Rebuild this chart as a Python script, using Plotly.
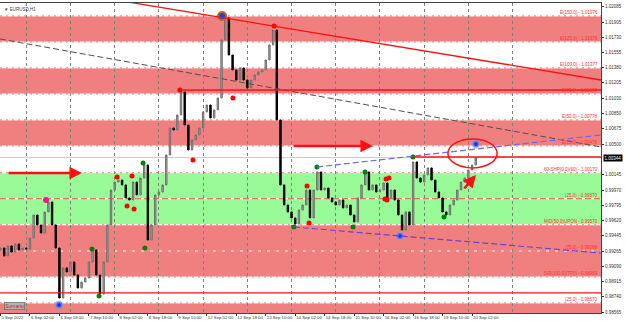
import plotly.graph_objects as go

# ---------------- data ----------------
# price path (2-hour steps, bar index = 2*k), EURUSD H1
closes = [0.99303, 0.99211, 0.99326, 0.99257, 0.99349, 0.99280, 0.99303, 0.99291, 0.99418, 0.99683,
          0.99568, 0.99476, 0.99718, 0.99833, 0.99568, 0.99303, 0.98727, 0.99073, 0.99027, 0.99142,
          0.98992, 0.98842, 0.98911, 0.98957, 0.99142, 0.99280, 0.98992, 0.98773, 0.99142, 0.99568,
          0.99971, 1.00063, 1.00086, 1.00029, 0.99879, 0.99856, 1.00063, 0.99914, 1.00109, 1.00259,
          0.99395, 0.99568, 0.99914, 0.99948, 1.00029, 1.00374, 1.00685, 1.00662, 1.00835, 1.01100,
          1.00720, 1.00432, 1.00547, 1.00605, 1.00685, 1.00870, 1.00950, 1.00801, 1.00893, 1.01031,
          1.01699, 1.01953, 1.01526, 1.01354, 1.01238, 1.01377, 1.01238, 1.01146, 1.01238, 1.01296,
          1.01331, 1.01354, 1.01469, 1.01642, 1.01814, 1.00778, 1.00029, 0.99798, 0.99718, 0.99649,
          0.99580, 0.99741, 0.99798, 0.99971, 0.99649, 0.99971, 1.00179, 0.99971, 0.99994, 0.99879,
          0.99833, 0.99798, 0.99856, 0.99764, 0.99798, 0.99683, 0.99603, 0.99879, 1.00029, 1.00179,
          0.99971, 1.00029, 0.99948, 0.99971, 1.00052, 0.99879, 0.99971, 0.99856, 0.99683, 0.99510,
          0.99718, 0.99568, 1.00294, 1.00109, 1.00063, 1.00144, 1.00225, 1.00086, 0.99948, 0.99879,
          0.99718, 0.99683, 0.99798, 0.99856, 0.99971, 1.00063, 1.00109, 1.00202, 1.00259, 1.00344]
first_open = 0.99280
bid = 1.00344

# x-axis labels (every 16 bars) and day separators
xlabel_bars = [0, 16, 32, 48, 64, 80, 96, 112, 128, 144, 160, 176, 192, 208, 224, 240, 256]
xlabel_text = ["5 Sep 2022", "6 Sep 02:00", "6 Sep 18:00", "7 Sep 10:00", "8 Sep 02:00", "8 Sep 18:00",
               "9 Sep 10:00", "12 Sep 02:00", "12 Sep 18:00", "13 Sep 10:00", "14 Sep 02:00",
               "14 Sep 18:00", "15 Sep 10:00", "16 Sep 02:00", "16 Sep 18:00", "19 Sep 10:00",
               "20 Sep 02:00"]
day_bars = [14, 38, 62, 86, 110, 134, 158, 182, 206, 230, 254, 278]

# y-axis labels
ytick_vals = [1.02085, 1.01905, 1.01730, 1.01555, 1.01380, 1.01205, 1.01030, 1.00850, 1.00675,
              1.00500, 1.00145, 0.99970, 0.99795, 0.99620, 0.99445, 0.99265, 0.99090, 0.98915,
              0.98740, 0.98565]

# level lines with labels
level_prices = [1.01976, 1.01676, 1.01377, 1.01077, 1.00778, 1.00478, 1.00170, 0.99870,
                0.99570, 0.99268, 0.98969, 0.98670]
level_names = ["E(150.0)", "E(125.0)", "E(100.0)", "E(75.0)", "E(50.0)", "E(25.0)",
               "60-SHP(0.0)(60)", "(25.0)", "MID(50.0)UPON", "(75.0)", "S/R(100.0)(TP0)", "(25.0)"]
mid_levels = [0.99870, 0.99268]

# zones (low, high, kind)
zone_low = [1.01676, 1.01077, 1.00478, 0.99570, 0.98969, 0.98500]
zone_high = [1.01976, 1.01377, 1.00778, 1.00170, 0.99570, 0.98670]
zone_kind = ["sell", "sell", "sell", "buy", "sell", "sell"]

# fractal / swing dots
red_bars = [63.3, 68.7, 71.4, 72.5, 97.4, 104.5, 126.2, 148.5, 166.4, 167.5, 209.3, 210.9, 208.7, 209.8]
red_prices = [1.00121, 0.99787, 1.00132, 0.99752, 1.01123, 1.00317, 1.01031, 1.01860, 1.00017,
              0.99591, 1.00098, 1.00109, 0.99868, 0.99856]
green_bars = [49.7, 53.5, 77.4, 78.4, 159.3, 171.8, 191.4, 197.9, 223.9, 240.8]
green_prices = [0.99292, 0.98750, 1.00282, 0.99303, 0.99545, 1.00236, 0.99545, 1.00179, 1.00351, 0.99661]
magenta_bars = [24.7]
magenta_prices = [0.99856]
blue_bars = [31.8, 216.9, 258.1]
blue_prices = [0.98646, 0.99441, 1.00501]
top_bars = [120.3]
top_prices = [1.01976]

# drawn objects: (bar0, price0, bar1, price1)
red_trend = (69.0, 1.02137, 326.0, 1.01238)
grey_trend = (-0.3, 1.01711, 326.0, 1.00467)
blue_trend = (171.8, 1.00236, 326.0, 1.00605)
purple_trend = (159.3, 0.99545, 326.0, 0.99245)
red_hlines = [(97.4, 1.01123), (223.9, 1.00351), (-1.0, 0.98785)]
arrows = [(3.5, 1.00167, 44.2, 1.00167), (158.3, 1.00478, 202.2, 1.00478), (251.1, 0.99971, 258.1, 1.00144)]
ellipse = (242.9, 1.00225, 269.6, 1.00559)

XMIN, XMAX = -0.27, 326.0
YMIN, YMAX = 0.98554, 1.02125

# ---------------- figure ----------------
opens = [first_open] + closes[:-1]
bars = [2 * k for k in range(len(closes))]
highs = [max(o, c) for o, c in zip(opens, closes)]
lows = [min(o, c) for o, c in zip(opens, closes)]

fig = go.Figure()
shapes = []

CORAL = "#F08080"
GREEN = "#98FB98"
for lo, hi, kind in zip(zone_low, zone_high, zone_kind):
    shapes.append(dict(type="rect", xref="x", yref="y", x0=XMIN - 5, x1=XMAX + 5, y0=lo, y1=hi,
                       fillcolor=GREEN if kind == "buy" else CORAL, line=dict(width=0), layer="below"))
for p in level_prices:
    mid = p in mid_levels
    shapes.append(dict(type="line", xref="x", yref="y", x0=XMIN, x1=XMAX, y0=p, y1=p,
                       line=dict(color="white", width=1), layer="below"))
    shapes.append(dict(type="line", xref="x", yref="y", x0=XMIN, x1=XMAX, y0=p, y1=p,
                       line=dict(color="#E04848" if mid else "#F07878", width=1,
                                 dash="6px,3px" if mid else "2px,4px"), layer="below"))
# bid line
shapes.append(dict(type="line", xref="x", yref="y", x0=XMIN, x1=XMAX, y0=bid, y1=bid,
                   line=dict(color="#C8C8C8", width=1), layer="below"))

# trend lines
for (b0, p0, b1, p1), col, dash, w in [
        (red_trend, "#FF1010", "solid", 1.3),
        (grey_trend, "#505050", "6px,3px", 1),
        (blue_trend, "#6A6AF0", "6px,3px", 1.2),
        (purple_trend, "#7040D0", "6px,3px", 1.2)]:
    shapes.append(dict(type="line", xref="x", yref="y", x0=b0, y0=p0, x1=b1, y1=p1,
                       line=dict(color=col, width=w, dash=dash), layer="above"))
for b0, p in red_hlines:
    shapes.append(dict(type="line", xref="x", yref="y", x0=b0, x1=XMAX, y0=p, y1=p,
                       line=dict(color="#FF1010", width=1.3), layer="above"))
shapes.append(dict(type="circle", xref="x", yref="y", x0=ellipse[0], y0=ellipse[1],
                   x1=ellipse[2], y1=ellipse[3], line=dict(color="#FF1010", width=1.5), layer="above"))

fig.add_trace(go.Candlestick(
    x=bars, open=opens, high=highs, low=lows, close=closes,
    increasing=dict(line=dict(color="#707070", width=1), fillcolor="#a8a8a8"),
    decreasing=dict(line=dict(color="#000000", width=1), fillcolor="#000000"),
    whiskerwidth=0, showlegend=False, hoverinfo="skip"))

def dots(xs, ys, color, size, line_color=None, line_w=0):
    fig.add_trace(go.Scatter(x=xs, y=ys, mode="markers", showlegend=False, hoverinfo="skip",
                             marker=dict(color=color, size=size,
                                         line=dict(color=line_color or color, width=line_w))))

dots(red_bars, red_prices, "#FF0000", 5)
dots(green_bars, green_prices, "#008000", 5)
dots(magenta_bars, magenta_prices, "#E0208C", 6)
dots(blue_bars, blue_prices, "#1030E0", 6, "rgba(120,150,230,0.7)", 2.5)
dots(top_bars, top_prices, "#2040E0", 8, "#C86414", 2)

annotations = []
for b0, p0, b1, p1 in arrows:
    annotations.append(dict(x=b1, y=p1, ax=b0, ay=p0, xref="x", yref="y", axref="x", ayref="y",
                            text="", showarrow=True, arrowhead=2, arrowsize=1, arrowwidth=2.5,
                            arrowcolor="#FF1010"))
for p, nm in zip(level_prices, level_names):
    annotations.append(dict(x=1, y=p, xref="paper", yref="y", xanchor="right", yanchor="bottom",
                            xshift=-1, yshift=-1, text=f"{nm} - {p:.5f}", showarrow=False,
                            font=dict(size=4.5, color="#FF3030", family="Liberation Sans")))
annotations.append(dict(x=1, y=bid, xref="paper", yref="y", xanchor="left", yanchor="middle",
                        xshift=2, text=f"{bid:.5f}", showarrow=False, bgcolor="black",
                        borderpad=0.5, font=dict(size=4.5, color="white", family="Liberation Sans")))
annotations.append(dict(x=0.004, y=0.995, xref="paper", yref="paper", xanchor="left", yanchor="top",
                        text="▼ EURUSD,H1", showarrow=False,
                        font=dict(size=4.5, color="#404040", family="Liberation Sans")))
annotations.append(dict(x=0.006, y=0.021, xref="paper", yref="paper", xanchor="left", yanchor="middle",
                        text="Sumario", showarrow=False, bgcolor="#B4B4B4", bordercolor="#606060",
                        borderwidth=0.6, borderpad=0.6,
                        font=dict(size=5, color="#E01010", family="Liberation Sans")))

fig.update_layout(
    width=625, height=325, autosize=False,
    margin=dict(l=0, r=24, t=3, b=12),
    paper_bgcolor="white", plot_bgcolor="white",
    boxgap=0.45,
    shapes=shapes, annotations=annotations,
    xaxis=dict(range=[XMIN, XMAX], rangeslider=dict(visible=False), showgrid=False, zeroline=False,
               tickmode="array", tickvals=xlabel_bars, ticktext=xlabel_text, tickangle=0,
               ticklabelposition="outside right", ticks="outside", ticklen=2, tickcolor="#333",
               tickfont=dict(size=4.3, color="#333", family="Liberation Sans"),
               showline=True, linecolor="#444", linewidth=1, mirror=True,
               minor=dict(tickmode="array", tickvals=day_bars, showgrid=True, gridcolor="#808080",
                          griddash="dot", gridwidth=1, ticklen=0)),
    yaxis=dict(range=[YMIN, YMAX], side="right", showgrid=False, zeroline=False,
               tickmode="array", tickvals=ytick_vals, ticktext=[f"{v:.5f}" for v in ytick_vals],
               ticks="outside", ticklen=2, tickcolor="#333",
               tickfont=dict(size=4.5, color="#333", family="Liberation Sans"),
               showline=True, linecolor="#444", linewidth=1, mirror=True),
)

fig.write_html("out.html", config={"displayModeBar": False})
